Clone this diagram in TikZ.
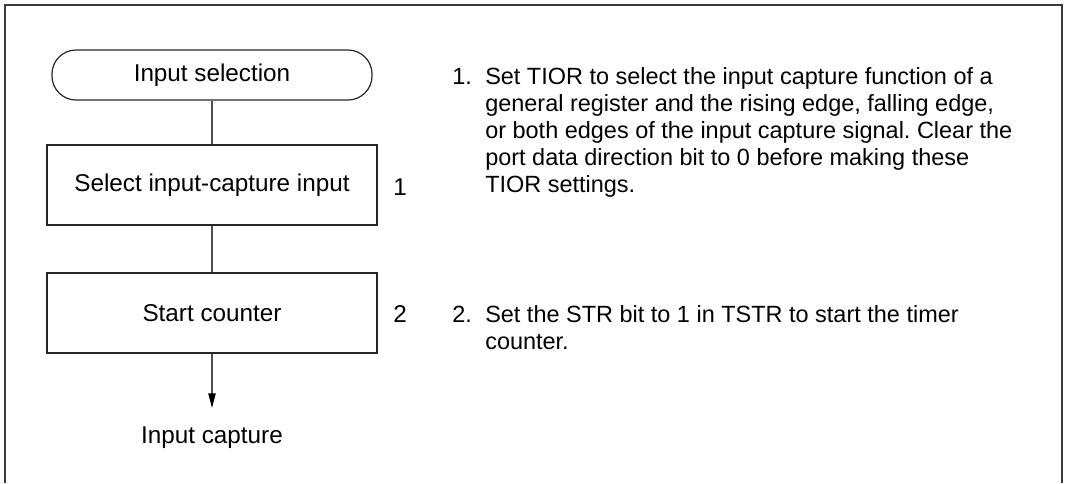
\documentclass[tikz,border=0pt]{standalone}
\usepackage{fontspec}
\setmainfont{Liberation Sans}
\usetikzlibrary{arrows.meta}
\definecolor{framec}{HTML}{3A3A3A}
\definecolor{linec}{HTML}{505050}
\frenchspacing
\begin{document}
\begin{tikzpicture}[x=0.75pt,y=-0.75pt,
  every node/.style={font=\fontsize{17.6}{20.25}\selectfont, inner sep=0pt},
  chart/.style={font=\fontsize{18.2}{21}\selectfont},
  stepbox/.style={chart, draw=black!85, line width=0.9pt, minimum width=247.5pt, minimum height=60pt},
  term/.style={chart, draw=black!85, line width=0.9pt, minimum width=240pt, minimum height=37.5pt, rounded corners=18pt},
  conn/.style={draw=linec, line width=0.9pt},
  txt/.style={anchor=base west}]
\useasboundingbox (0,0) rectangle (1068,483);
\draw[framec, line width=1.6pt] (5,483) -- (5,5) -- (1062,5) -- (1062,483);

\node[term] (t) at (212,75) {Input selection};
\node[stepbox] (b1) at (212,185) {Select input-capture input};
\node[stepbox] (b2) at (212,313) {Start counter};
\node[chart] (out) at (212,438) {Input capture};
\coordinate (tip) at (212,408);

\draw[conn] (t) -- (b1);
\draw[conn] (b1) -- (b2);
\draw[conn, -{Triangle[length=11pt,width=5.5pt,color=black]}] (b2) -- (tip);

\node[txt, chart] (n1) at (393,195) {1};
\node[txt, chart] (n2) at (393,322) {2};

\node[txt] (l1n) at (452,84) {1.};
\node[txt] (l1a) at (485,84) {Set TIOR to select the input capture function of a};
\node[txt] (l1b) at (485,111) {general register and the rising edge, falling edge,};
\node[txt] (l1c) at (485,138) {or both edges of the input capture signal. Clear the};
\node[txt] (l1d) at (485,165) {port data direction bit to 0 before making these};
\node[txt] (l1e) at (485,192) {TIOR settings.};

\node[txt] (l2n) at (452,322) {2.};
\node[txt] (l2a) at (485,322) {Set the STR bit to 1 in TSTR to start the timer};
\node[txt] (l2b) at (485,349) {counter.};
\end{tikzpicture}
\end{document}
